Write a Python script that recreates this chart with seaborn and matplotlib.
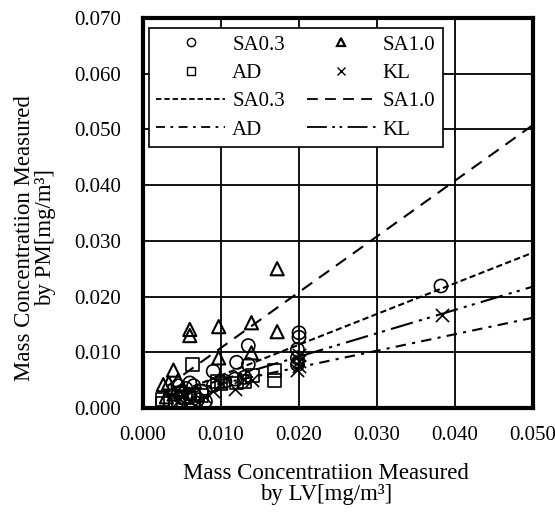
import numpy as np
import pandas as pd
import matplotlib
matplotlib.use("Agg")
import matplotlib.pyplot as plt
from matplotlib.lines import Line2D
import seaborn as sns

# ---------------- data ----------------
sa03_x = [0.0382, 0.0200, 0.0200, 0.0198, 0.0198, 0.0198, 0.0135, 0.0135, 0.0120, 0.0118,
          0.0090, 0.0090, 0.0075, 0.0065, 0.0060, 0.0055, 0.0050, 0.0048, 0.0060, 0.0070,
          0.0080, 0.0045, 0.0105, 0.0130]
sa03_y = [0.0219, 0.0135, 0.0127, 0.0105, 0.0090, 0.0078, 0.0112, 0.0078, 0.0082, 0.0052,
          0.0066, 0.0040, 0.0030, 0.0040, 0.0045, 0.0035, 0.0030, 0.0020, 0.0020, 0.0015,
          0.0012, 0.0040, 0.0048, 0.0055]

sa10_x = [0.0172, 0.0060, 0.0060, 0.0097, 0.0139, 0.0172, 0.0097, 0.0139, 0.0039, 0.0026,
          0.0033, 0.0045, 0.0050, 0.0040, 0.0030]
sa10_y = [0.0250, 0.0141, 0.0130, 0.0146, 0.0153, 0.0137, 0.0090, 0.0099, 0.0068, 0.0042,
          0.0045, 0.0050, 0.0030, 0.0025, 0.0020]

ad_x = [0.0063, 0.0169, 0.0169, 0.0140, 0.0095, 0.0100, 0.0025, 0.0025, 0.0035, 0.0045,
        0.0055, 0.0065, 0.0075, 0.0130, 0.0120]
ad_y = [0.0078, 0.0068, 0.0050, 0.0058, 0.0048, 0.0044, 0.0015, 0.0008, 0.0012, 0.0010,
        0.0018, 0.0025, 0.0022, 0.0048, 0.0045]

kl_x = [0.0383, 0.0200, 0.0200, 0.0200, 0.0198, 0.0118, 0.0140, 0.0090, 0.0080, 0.0070,
        0.0060, 0.0055, 0.0050, 0.0045, 0.0100, 0.0125]
kl_y = [0.0167, 0.0095, 0.0085, 0.0075, 0.0068, 0.0035, 0.0050, 0.0030, 0.0020, 0.0010,
        0.0015, 0.0005, 0.0025, 0.0012, 0.0045, 0.0055]

# trend lines (end points)
fit_x = [0.003, 0.050]
fit_sa03 = [0.0020, 0.0279]
fit_sa10 = [0.0038, 0.0508]
fit_ad = [0.0023, 0.0162]
fit_kl = [0.0021, 0.0218]

series_names = ["SA0.3", "SA1.0", "AD", "KL"]
x_ticks = [0.000, 0.010, 0.020, 0.030, 0.040, 0.050]
y_ticks = [0.000, 0.010, 0.020, 0.030, 0.040, 0.050, 0.060, 0.070]

# ---------------- style ----------------
sns.set_theme(style="white")
plt.rcParams["font.family"] = ["Liberation Serif", "DejaVu Serif"]
plt.rcParams["text.color"] = "black"
plt.rcParams["axes.labelcolor"] = "black"

fig = plt.figure(figsize=(5.55, 5.15), dpi=100)
ax = fig.add_axes([143 / 555, 1 - 408 / 515, 390 / 555, 390 / 515])

ls_sa03 = (0, (3, 1.6))
ls_sa10 = (0, (6, 4))
ls_ad = (0, (5, 3, 1.5, 3))
ls_kl = (0, (11, 3, 1.5, 2.5, 1.5, 3))

line_specs = [
    (fit_sa03, ls_sa03),
    (fit_sa10, ls_sa10),
    (fit_ad, ls_ad),
    (fit_kl, ls_kl),
]
for ys, ls in line_specs:
    sns.lineplot(x=fit_x, y=ys, ax=ax, color="black", linestyle=ls, lw=1.5, zorder=3)

msize = 90
sns.scatterplot(x=sa03_x, y=sa03_y, ax=ax, marker="o", s=msize, facecolor="none",
                edgecolor="black", linewidth=1.2, zorder=4)
sns.scatterplot(x=sa10_x, y=sa10_y, ax=ax, marker="^", s=msize, facecolor="none",
                edgecolor="black", linewidth=1.5, zorder=4)
sns.scatterplot(x=ad_x, y=ad_y, ax=ax, marker="s", s=msize * 0.95, facecolor="none",
                edgecolor="black", linewidth=1.2, zorder=4)
sns.scatterplot(x=kl_x, y=kl_y, ax=ax, marker="x", s=msize, color="black",
                linewidth=1.2, zorder=4)

ax.set_xlim(0, 0.05)
ax.set_ylim(0, 0.07)
ax.set_xticks(x_ticks)
ax.set_yticks(y_ticks)
ax.set_xticklabels([f"{v:.3f}" for v in x_ticks])
ax.set_yticklabels([f"{v:.3f}" for v in y_ticks])
ax.tick_params(axis="both", length=0, labelsize=15, colors="black")
ax.tick_params(axis="y", pad=16)
ax.tick_params(axis="x", pad=13)
ax.grid(True, color="black", linewidth=1.3)
ax.set_axisbelow(True)
for sp in ax.spines.values():
    sp.set_visible(True)
    sp.set_color("black")
    sp.set_linewidth(3)
ax.set_xlabel("")
ax.set_ylabel("")

# legend
h = [
    Line2D([], [], ls="none", marker="o", mfc="none", mec="black", ms=6, mew=1.0),
    Line2D([], [], ls="none", marker="s", mfc="none", mec="black", ms=6, mew=1.0),
    Line2D([], [], color="black", ls=ls_sa03, lw=1.3),
    Line2D([], [], color="black", ls=ls_ad, lw=1.3),
    Line2D([], [], ls="none", marker="^", mfc="none", mec="black", ms=6, mew=1.6),
    Line2D([], [], ls="none", marker="x", color="black", ms=6, mew=1.0),
    Line2D([], [], color="black", ls=ls_sa10, lw=1.3),
    Line2D([], [], color="black", ls=ls_kl, lw=1.3),
]
labels = ["SA0.3", "AD", "SA0.3", "AD", "SA1.0", "KL", "SA1.0", "KL"]
leg = ax.legend(h, labels, ncol=2, loc="upper left", bbox_to_anchor=(0.015, 0.975),
                borderaxespad=0, fontsize=15, frameon=True, fancybox=False,
                edgecolor="black", framealpha=1, handlelength=3.3, handletextpad=0.35,
                columnspacing=1.05, labelspacing=0.42, borderpad=0.35)
leg.get_frame().set_linewidth(1.2)
leg.set_zorder(10)

fig.text(0.063, 0.538, "Mass Concentratiion Measured\nby PM[mg/m³]", rotation=90,
         ha="center", va="center", fontsize=16.5, linespacing=1.0)
fig.text(0.587, 0.060, "Mass Concentratiion Measured\nby LV[mg/m³]",
         ha="center", va="center", fontsize=16.5, linespacing=1.0)

fig.savefig("out.png", dpi=100)
